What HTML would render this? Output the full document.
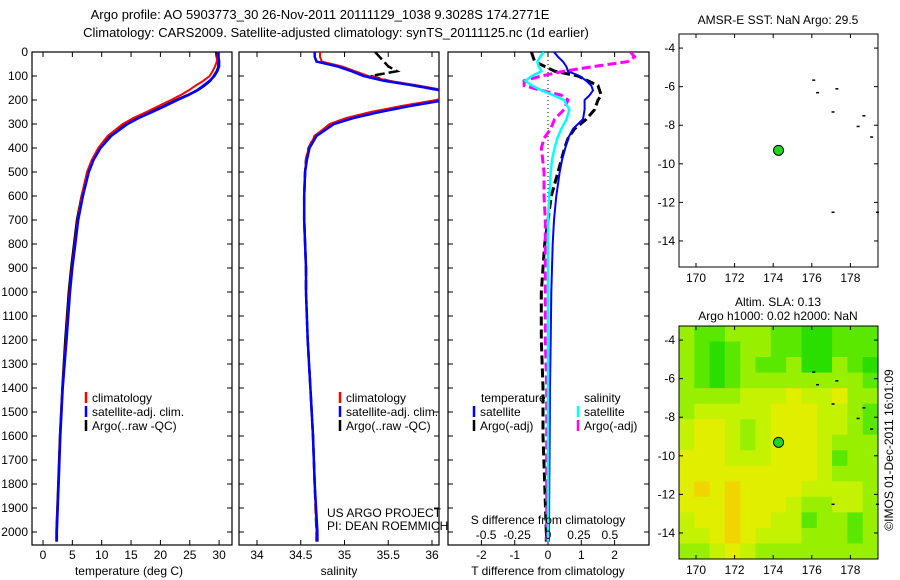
<!DOCTYPE html>
<html><head><meta charset="utf-8"><style>
html,body{margin:0;padding:0;background:#fff;}
svg{display:block;font-family:"Liberation Sans",Arial,sans-serif;}
text{font-size:12px;fill:#000;}
</style></head><body>
<svg id="chart" width="900" height="580" viewBox="0 0 900 580">
<text x="320" y="19" text-anchor="middle" style="font-size:13px">Argo profile: AO 5903773_30 26-Nov-2011 20111129_1038 9.3028S 174.2771E</text>
<text x="336" y="37" text-anchor="middle" style="font-size:13px">Climatology: CARS2009. Satellite-adjusted climatology: synTS_20111125.nc (1d earlier)</text>
<g id="p1"></g>
<g id="p2"></g>
<g id="p3"></g>
<g id="m1"></g>
<g id="m2"></g>
<text transform="translate(893,450) rotate(-90)" text-anchor="middle">©IMOS 01-Dec-2011 16:01:09</text>
</svg>
<script>
const depths=[0,20,40,60,80,100,120,140,160,180,200,225,250,275,300,350,400,450,500,600,700,800,900,1000,1200,1400,1600,1800,2000,2040];
const tempClim=[29.8,29.7,29.6,29.3,28.9,28.4,27.3,26.0,24.8,23.4,21.8,19.7,17.6,15.4,13.6,11.0,9.4,8.3,7.5,6.6,5.9,5.4,4.9,4.5,3.9,3.3,2.9,2.6,2.3,2.3];
const tempSat=[29.9,29.9,30.0,30.0,29.7,29.2,28.4,27.3,26.2,24.7,22.9,20.8,18.6,16.3,14.4,11.6,9.8,8.6,7.8,6.8,6.0,5.5,5.0,4.6,4.0,3.35,2.95,2.65,2.35,2.35];
const tempArgo=[29.5,29.6,29.8,29.9,29.6,29.1,28.5,27.5,26.3,24.6,22.7,20.6,18.3,16.0,14.1,11.4,9.6,8.5,7.6,6.6,5.8,5.3,4.8,4.4,3.8,3.3,2.9,2.6,2.3,2.3];
const salClim=[34.72,34.72,34.74,34.97,35.12,35.27,35.5,35.85,36.15,36.2,36.05,35.65,35.3,35.02,34.83,34.66,34.59,34.56,34.55,34.54,34.54,34.55,34.56,34.56,34.58,34.61,34.64,34.66,34.68,34.68];
const salSat=[34.66,34.66,34.68,34.92,35.08,35.22,35.45,35.8,36.1,36.25,36.15,35.75,35.4,35.1,34.88,34.68,34.6,34.57,34.55,34.54,34.54,34.55,34.56,34.56,34.58,34.61,34.64,34.66,34.69,34.69];
const salArgo=[35.35,35.4,35.45,35.5,35.6,35.3,35.5,35.8,36.1,36.25,36.1,35.7,35.4,35.1,34.85,34.66,34.59,34.56,34.55,34.54,34.54,34.55,34.56,34.56,34.58,34.61,34.64,34.66,34.68,34.68];
const diffDepths=[0,20,40,60,80,100,120,140,160,180,200,240,280,320,360,400,450,500,600,700,800,1000,1200,1400,1600,1800,2000,2040];
const tDiffSat=[0.18,0.3,0.45,0.55,0.6,0.95,1.15,1.3,1.35,1.25,1.1,1.1,1.05,0.75,0.6,0.52,0.42,0.35,0.25,0.18,0.14,0.1,0.08,0.06,0.05,0.04,0.03,0.03];
const tDiffArgo=[-0.5,-0.45,-0.4,-0.1,0.2,0.9,1.2,1.5,1.55,1.6,1.5,1.4,1.15,0.8,0.6,0.5,0.4,0.3,0.1,0.0,-0.1,-0.2,-0.2,-0.15,-0.15,-0.1,-0.05,-0.05];
const sDiffSat=[-0.03,-0.06,-0.08,-0.07,-0.05,-0.12,-0.17,-0.12,-0.05,0.04,0.12,0.16,0.14,0.1,0.07,0.05,0.03,0.02,0.01,0,0,0,0,0,0,0,0,0];
const sDiffArgo=[0.62,0.65,0.6,0.35,0.12,-0.05,-0.18,-0.18,-0.05,0.1,0.15,0.12,0.05,0.02,-0.03,-0.05,-0.04,-0.03,-0.03,-0.02,-0.02,-0.02,-0.02,-0.01,-0.01,-0.01,-0.01,-0.01];
const depthTicks=[0,100,200,300,400,500,600,700,800,900,1000,1100,1200,1300,1400,1500,1600,1700,1800,1900,2000];
const tempTicks=[0,5,10,15,20,25,30];
const salTicks=[34,34.5,35,35.5,36];
const salTickLabels=["34","34.5","35","35.5","36"];
const tDiffTicks=[-2,-1,0,1,2];
const sDiffTicks=[-0.5,-0.25,0,0.25,0.5];
const sDiffTickLabels=["-0.5","-0.25","0","0.25","0.5"];
const lonTicks=[170,172,174,176,178];
const latTicks=[-4,-6,-8,-10,-12,-14];
const argoLon=174.2771, argoLat=-9.3028;
const slaGrid=[
[3,4,4,3,3,3,4,4,5,5,4,4,4],
[3,4,5,4,3,3,4,4,5,5,4,4,4],
[3,4,5,4,3,4,4,3,5,5,3,4,5],
[3,4,5,4,3,3,3,3,3,3,3,3,4],
[3,3,3,3,2,2,2,1,2,2,1,3,3],
[3,2,2,2,2,2,1,1,1,2,2,3,4],
[2,1,1,2,3,2,1,1,1,2,2,3,4],
[2,1,1,2,3,2,1,1,1,2,3,3,3],
[1,1,1,2,2,2,1,1,1,2,4,3,3],
[1,1,1,1,1,1,1,1,1,2,3,3,3],
[1,0,1,0,1,1,1,1,2,2,2,2,3],
[1,1,1,0,1,1,1,2,3,3,2,2,3],
[2,1,1,0,1,1,2,2,4,3,3,4,3],
[2,2,1,0,1,2,2,2,3,3,3,4,3],
[3,3,2,1,2,3,3,3,3,3,3,3,3]];
const coastLon=[176.1,176.3,177.3,177.1,178.4,178.7,179.1,177.1,179.4];
const coastLat=[-5.65,-6.3,-6.1,-7.3,-8.05,-7.5,-8.6,-12.5,-12.5];

const NS='http://www.w3.org/2000/svg';
function mk(tag,attrs,parent,txt){const e=document.createElementNS(NS,tag);for(const k in attrs)e.setAttribute(k,attrs[k]);if(txt!==undefined)e.textContent=txt;parent.appendChild(e);return e;}
const TOP=52,BOT=545;
const yD=d=>TOP+d*0.24;

function panel(g,x0,x1,name){
  const r=mk('rect',{x:x0,y:TOP,width:x1-x0,height:BOT-TOP,fill:'#fff',stroke:'#000','stroke-width':1.2},g);
  
  
  depthTicks.forEach(d=>{
    mk('line',{x1:x0,x2:x0+5,y1:yD(d),y2:yD(d),stroke:'#000'},g);
    mk('line',{x1:x1-5,x2:x1,y1:yD(d),y2:yD(d),stroke:'#000'},g);
  });
}
function xticks(g,vals,labels,xf,ytop,ybot,labY){
  vals.forEach((v,i)=>{
    const x=xf(v);
    mk('line',{x1:x,x2:x,y1:ybot,y2:ybot-5,stroke:'#000'},g);
    mk('line',{x1:x,x2:x,y1:ytop,y2:ytop+5,stroke:'#000'},g);
    if(labels){const t=mk('text',{x:x,y:labY,'text-anchor':'middle'},g,labels[i]);
      
      }
  });
}
function line(g,xs,ds,xf,color,w,dash,name){
  const pts=xs.map((v,i)=>xf(v).toFixed(1)+','+yD(ds[i]).toFixed(1)).join(' ');
  const p=mk('polyline',{points:pts,fill:'none',stroke:color,'stroke-width':w},g);
  if(dash)p.setAttribute('stroke-dasharray',dash);
  
  
}
function legend(g,x,y,color,label){
  const l=mk('line',{x1:x,x2:x,y1:y-10,y2:y+1,stroke:color,'stroke-width':2.5},g);
  
  
  const t=mk('text',{x:x+6,y:y},g,label);
  
  
}

const svg=document.getElementById('chart');
const dl=mk('g',{},svg);


depthTicks.forEach(d=>{const t=mk('text',{x:28,y:yD(d)+4,'text-anchor':'end'},dl,String(d));
  
  });

// Panel 1
const p1=document.getElementById('p1');
const xT=v=>43+v*5.87;
panel(p1,32,232,'temperature');
xticks(p1,tempTicks,tempTicks.map(String),xT,TOP,BOT,559);
line(p1,tempArgo,depths,xT,'#000',2.5,null,'argo-temperature-line');
line(p1,tempClim,depths,xT,'#f00',2,null,'climatology-temperature-line');
line(p1,tempSat,depths,xT,'#00f',2.5,null,'satellite-temperature-line');
legend(p1,86,402,'#f00','climatology');
legend(p1,86,416,'#00f','satellite-adj. clim.');
legend(p1,86,430,'#000','Argo(..raw -QC)');
const xt1=mk('text',{x:129,y:575,'text-anchor':'middle'},p1,'temperature (deg C)');



// Panel 2
const p2=document.getElementById('p2');
const xS=v=>257+(v-34)*87.5;
panel(p2,239,439,'salinity');
xticks(p2,salTicks,salTickLabels,xS,TOP,BOT,559);
const cp=mk('clipPath',{id:'c2'},p2);mk('rect',{x:239,y:TOP,width:200,height:BOT-TOP},cp);
const g2=mk('g',{'clip-path':'url(#c2)'},p2);
line(g2,salArgo,depths,xS,'#000',2.5,'10 4','argo-salinity-line');
line(g2,salClim,depths,xS,'#f00',2,null,'climatology-salinity-line');
line(g2,salSat,depths,xS,'#00f',2.5,null,'satellite-salinity-line');
legend(p2,340,402,'#f00','climatology');
legend(p2,340,416,'#00f','satellite-adj. clim.');
legend(p2,340,430,'#000','Argo(..raw -QC)');
mk('text',{x:327,y:517},p2,'US ARGO PROJECT');
mk('text',{x:327,y:530},p2,'PI: DEAN ROEMMICH');
const xt2=mk('text',{x:339,y:575,'text-anchor':'middle'},p2,'salinity');



// Panel 3
const p3=document.getElementById('p3');
const xTd=v=>548+v*33.3;
const xSd=v=>548+v*133;
panel(p3,448,649,'difference');
xticks(p3,tDiffTicks,tDiffTicks.map(String),xTd,TOP,BOT,559);
mk('line',{x1:548,x2:548,y1:TOP,y2:BOT,stroke:'#000','stroke-dasharray':'1 3'},p3);
const cp3=mk('clipPath',{id:'c3'},p3);mk('rect',{x:448,y:TOP,width:201,height:BOT-TOP},cp3);
const g3=mk('g',{'clip-path':'url(#c3)'},p3);
line(g3,tDiffArgo,diffDepths,xTd,'#000',3,'9 4','argo-temperature-difference');
line(g3,tDiffSat,diffDepths,xTd,'#00f',2,null,'satellite-temperature-difference');
line(g3,sDiffArgo,diffDepths,xSd,'#f0f',3,'9 4','argo-salinity-difference');
line(g3,sDiffSat,diffDepths,xSd,'#0ff',2.5,null,'satellite-salinity-difference');
mk('text',{x:481,y:402},p3,'temperature');
mk('text',{x:584,y:402},p3,'salinity');
legend(p3,474,416,'#00f','satellite');
legend(p3,474,430,'#000','Argo(-adj)');
legend(p3,578,416,'#0ff','satellite');
legend(p3,578,430,'#f0f','Argo(-adj)');
mk('text',{x:548,y:524,'text-anchor':'middle'},p3,'S difference from climatology');
sDiffTicks.forEach((v,i)=>{const t=mk('text',{x:xSd(v)*0.93+548*0.07,y:539,'text-anchor':'middle'},p3,sDiffTickLabels[i]);
  
  });
const xt3=mk('text',{x:548,y:575,'text-anchor':'middle'},p3,'T difference from climatology');



// Maps
const LON0=169.12,LON1=179.43,LAT0=-3.27,LAT1=-15.35;
const colors=['#f2d400','#e2ee00','#c4f200','#98f000','#5ae800','#2ade00'];
function map(g,top,title1,title2,heat){
  const x0=679,x1=878,bot=top+233;
  const mx=v=>x0+(v-LON0)/(LON1-LON0)*(x1-x0);
  const my=v=>top+(v-LAT0)/(LAT1-LAT0)*(bot-top);
  if(heat){
    const nr=heat.length,nc=heat[0].length,cw=(x1-x0)/nc,ch=(bot-top)/nr;
    heat.forEach((row,r)=>row.forEach((v,c)=>{
      const cell=mk('rect',{x:x0+c*cw,y:top+r*ch,width:cw+0.5,height:ch+0.5,fill:colors[v]},g);
      
      
    }));
  }
  const fr=mk('rect',{x:x0,y:top,width:x1-x0,height:bot-top,fill:'none',stroke:'#000'},g);
  
  
  lonTicks.forEach(v=>{const x=mx(v);
    mk('line',{x1:x,x2:x,y1:top,y2:top+4,stroke:'#000'},g);
    mk('line',{x1:x,x2:x,y1:bot,y2:bot-4,stroke:'#000'},g);
    mk('text',{x:x,y:bot+15,'text-anchor':'middle'},g,String(v));});
  latTicks.forEach(v=>{const y=my(v);
    mk('line',{x1:x0,x2:x0+4,y1:y,y2:y,stroke:'#000'},g);
    mk('line',{x1:x1,x2:x1-4,y1:y,y2:y,stroke:'#000'},g);
    mk('text',{x:x0-4,y:y+4,'text-anchor':'end'},g,String(v));});
  coastLon.forEach((v,i)=>{mk('rect',{x:mx(v)-1.5,y:my(coastLat[i])-0.5,width:3,height:1.5,fill:'#000'},g);});
  const dot=mk('circle',{cx:mx(argoLon),cy:my(argoLat),r:5,fill:'#1ed81e',stroke:'#000','stroke-width':1},g);
  
  
  if(title2){mk('text',{x:778,y:top-20,'text-anchor':'middle'},g,title1);mk('text',{x:778,y:top-6,'text-anchor':'middle'},g,title2);}
  else mk('text',{x:778,y:top-10,'text-anchor':'middle'},g,title1);
}
map(document.getElementById('m1'),34,'AMSR-E SST: NaN Argo: 29.5',null,null);
map(document.getElementById('m2'),326,'Altim. SLA: 0.13','Argo h1000: 0.02 h2000: NaN',slaGrid);
</script>
</body></html>
